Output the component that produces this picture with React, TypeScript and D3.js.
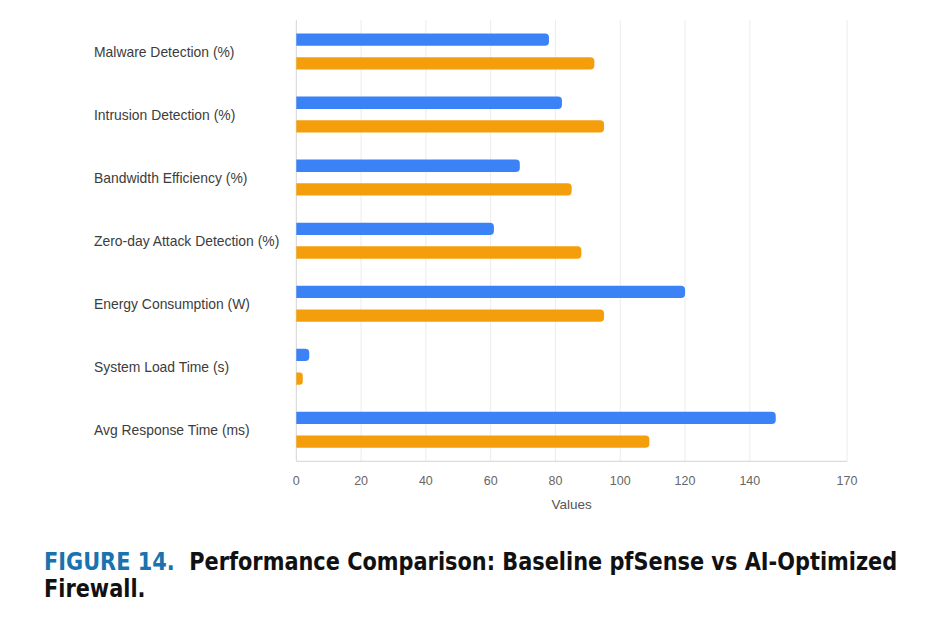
import React, { useLayoutEffect, useRef, useState } from "react";
import * as d3 from "d3";

const categories = [
  "Malware Detection (%)",
  "Intrusion Detection (%)",
  "Bandwidth Efficiency (%)",
  "Zero-day Attack Detection (%)",
  "Energy Consumption (W)",
  "System Load Time (s)",
  "Avg Response Time (ms)",
];
const seriesNames = ["Baseline pfSense", "AI-Optimized Firewall"];
const baselineValues = [78, 82, 69, 61, 120, 4, 148];
const aiValues = [92, 95, 85, 88, 95, 2, 109];
const xTicks = [0, 20, 40, 60, 80, 100, 120, 140, 170];
const xTitle = "Values";
const captionLabel = "FIGURE 14.";
const captionLine1 = "Performance Comparison: Baseline pfSense vs AI-Optimized";
const captionLine2 = "Firewall.";

const colors = ["#3b82f6", "#f59e0b"];

const W = 943;
const H = 623;
const left = 296.3;
const right = 847;
const top = 20;
const bottom = 461.3;
const capX = 44;
const capFont = "'Liberation Sans Narrow', 'DejaVu Sans Condensed', 'Open Sans', sans-serif";

function barPath(x0: number, x1: number, y: number, h: number, r: number) {
  const rr = Math.min(r, (x1 - x0) / 2, h / 2);
  return `M${x0},${y} L${x1 - rr},${y} Q${x1},${y} ${x1},${y + rr} L${x1},${y + h - rr} Q${x1},${y + h} ${x1 - rr},${y + h} L${x0},${y + h} Z`;
}

export default function App() {
  const x = d3.scaleLinear().domain([0, 170]).range([left, right]);
  const y = d3.scaleBand<string>().domain(categories).range([top, bottom]).padding(0);
  const inner = d3
    .scaleBand<string>()
    .domain(seriesNames)
    .range([0, y.bandwidth()])
    .paddingInner(0.48)
    .paddingOuter(0.57);
  const data = [baselineValues, aiValues];

  const cap1 = useRef<SVGTextElement>(null);
  const [sx, setSx] = useState(0.86);
  useLayoutEffect(() => {
    if (cap1.current) {
      const w = cap1.current.getComputedTextLength();
      if (w > 0) setSx(853 / w);
    }
  }, []);

  return (
    <svg
      width={W}
      height={H}
      viewBox={`0 0 ${W} ${H}`}
      style={{ position: "absolute", left: 0, top: 0, background: "#fff" }}
    >
      {xTicks.map((t) => (
        <line
          key={"g" + t}
          x1={x(t)}
          x2={x(t)}
          y1={top}
          y2={bottom}
          stroke={t === 0 ? "#d4d4d4" : "#ececec"}
          strokeWidth={1}
        />
      ))}
      <line x1={left} x2={right} y1={bottom} y2={bottom} stroke="#dcdcdc" strokeWidth={1.2} />
      {categories.map((c, i) =>
        seriesNames.map((s, j) => {
          const y0 = (y(c) ?? 0) + (inner(s) ?? 0);
          return (
            <path
              key={c + s}
              d={barPath(x(0), x(data[j][i]), y0, inner.bandwidth(), 4)}
              fill={colors[j]}
            />
          );
        })
      )}
      {categories.map((c) => (
        <text
          key={"l" + c}
          x={94}
          y={(y(c) ?? 0) + y.bandwidth() / 2}
          dominantBaseline="central"
          fontFamily="'Liberation Sans', Arial, sans-serif"
          fontSize={13.9}
          fill="#3c3c3c"
        >
          {c}
        </text>
      ))}
      {xTicks.map((t) => (
        <text
          key={"t" + t}
          x={x(t)}
          y={481}
          textAnchor="middle"
          dominantBaseline="central"
          fontFamily="'Liberation Sans', Arial, sans-serif"
          fontSize={12.5}
          fill="#666"
        >
          {t}
        </text>
      ))}
      <text
        x={(left + right) / 2}
        y={504}
        textAnchor="middle"
        dominantBaseline="central"
        fontFamily="'Liberation Sans', Arial, sans-serif"
        fontSize={13.5}
        fill="#555"
      >
        {xTitle}
      </text>
      <g transform={`translate(${capX},0) scale(${sx},1)`}>
        <text
          ref={cap1}
          x={0}
          y={570}
          fontFamily={capFont}
          fontWeight="bold"
          fontSize={25}
        >
          <tspan fill="#1a72ae">{captionLabel}</tspan>
          <tspan fill="#111">{"\u00a0\u00a0" + captionLine1}</tspan>
        </text>
        <text x={0} y={597} fontFamily={capFont} fontWeight="bold" fontSize={25} fill="#111">
          {captionLine2}
        </text>
      </g>
    </svg>
  );
}
